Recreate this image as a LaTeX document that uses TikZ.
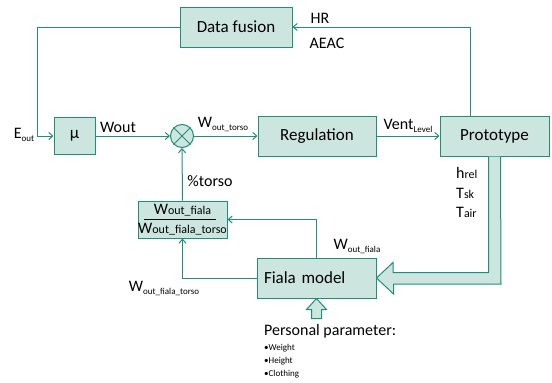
\documentclass[tikz,border=0pt]{standalone}
\usepackage{fontspec}
\setmainfont{Carlito}
\usetikzlibrary{arrows.meta,calc}
\definecolor{teal1}{HTML}{1F8F78}
\definecolor{mint}{HTML}{CCE6DF}
\newcommand{\lowsub}[1]{\raisebox{-3pt}{\fontsize{9}{9}\selectfont #1}}
\begin{document}
\begin{tikzpicture}[x=1pt,y=-1pt,
    blk/.style={draw=teal1,fill=mint,line width=1pt,font=\fontsize{17}{20}\selectfont,inner sep=0pt},
    arr/.style={draw=teal1,line width=1pt,-{Straight Barb[length=4pt,width=7pt]}},
    fat/.style={draw=teal1,fill=mint,line width=1pt,line join=miter},
    lbl/.style={font=\fontsize{16}{18}\selectfont,inner sep=0pt}]
    \useasboundingbox (0,0) rectangle (552,383);
    \node[blk,minimum width=112pt,minimum height=40pt] (fusion) at (236,27) {Data fusion};
    \node[blk,minimum width=41pt,minimum height=37pt] (mu) at (74.5,136) {μ};
    \node[blk,circle,minimum size=23pt] (sum) at (182,136) {};
    \draw[teal1,line width=1pt] (sum.north west) -- (sum.south east) (sum.north east) -- (sum.south west);
    \node[blk,minimum width=118pt,minimum height=40pt] (reg) at (317,136) {Regulation};
    \node[blk,minimum width=109pt,minimum height=40pt] (proto) at (494.5,136) {Prototype};
    \node[blk,minimum width=89pt,minimum height=37pt] (frac) at (182.5,219.5) {};
    \node[blk,minimum width=119pt,minimum height=40pt,align=left,text width=105pt] (fiala) at (316.5,278) {Fiala model};

    \draw[arr] (fusion.west) -| ([xshift=-16pt]mu.west) -- (mu.west);
    \draw[arr] ([xshift=-24.5pt]proto.north) |- (fusion.east);
    \draw[arr] (mu.east) -- (sum.west);
    \draw[arr] (sum.east) -- (reg.west);
    \draw[arr] (reg.east) -- (proto.west);
    \draw[arr] (frac.north) -- (sum.south);
    \draw[arr] (fiala.north) |- (frac.east);
    \draw[arr] (fiala.west) -| (frac.south);

    \draw[fat] ([xshift=-6pt]proto.south) -- ++(0,116) -- ++(-95.5,0) -- ++(0,-10)
        -- (fiala.east) -- ++(17,16) -- ++(0,-10) -- ++(107.5,0) -- ([xshift=6pt]proto.south);
    \draw[fat] (fiala.south) -- ++(10,11) -- ++(-5,0) -- ++(0,9) -- ++(-10,0)
        -- ++(0,-9) -- ++(-5,0) -- cycle;

    \node[lbl] (hr) at (320,18) {HR};
    \node[lbl] (aeac) at (327,43) {AEAC};
    \node[lbl] (eout) at (24,135) {E\lowsub{out}};
    \node[lbl] (wout) at (118,127) {Wout};
    \node[lbl] (wtorso) at (223,124) {W\lowsub{out\_torso}};
    \node[lbl] (vent) at (408,126) {Vent\lowsub{Level}};
    \node[lbl,anchor=west] (hrel) at (456,173) {h{\fontsize{12}{12}\selectfont rel}};
    \node[lbl,anchor=west] (tsk) at (456,193) {T{\fontsize{12}{12}\selectfont sk}};
    \node[lbl,anchor=west] (tair) at (456,212) {T{\fontsize{12}{12}\selectfont air}};
    \node[lbl] (ptorso) at (210,181) {\%torso};
    \node[lbl] (wfiala) at (357,246) {W\lowsub{out\_fiala}};
    \node[lbl] (wfialat) at (164,288) {W\lowsub{out\_fiala\_torso}};
    \node[lbl] (num) at (182.5,210) {W{\fontsize{12}{12}\selectfont out\_fiala}};
    \draw[line width=0.8pt] (144,219.5) -- (216,219.5);
    \node[lbl] (den) at (182.5,229) {W{\fontsize{12}{12}\selectfont out\_fiala\_torso}};
    \node[lbl,anchor=west] (pers) at (264,331) {Personal parameter:};
    \foreach \y/\t in {348/Weight,361/Height,374/Clothing}
        {\node[anchor=west,inner sep=0pt,font=\fontsize{9}{10}\selectfont] at (264,\y) {•\t};}
\end{tikzpicture}
\end{document}
